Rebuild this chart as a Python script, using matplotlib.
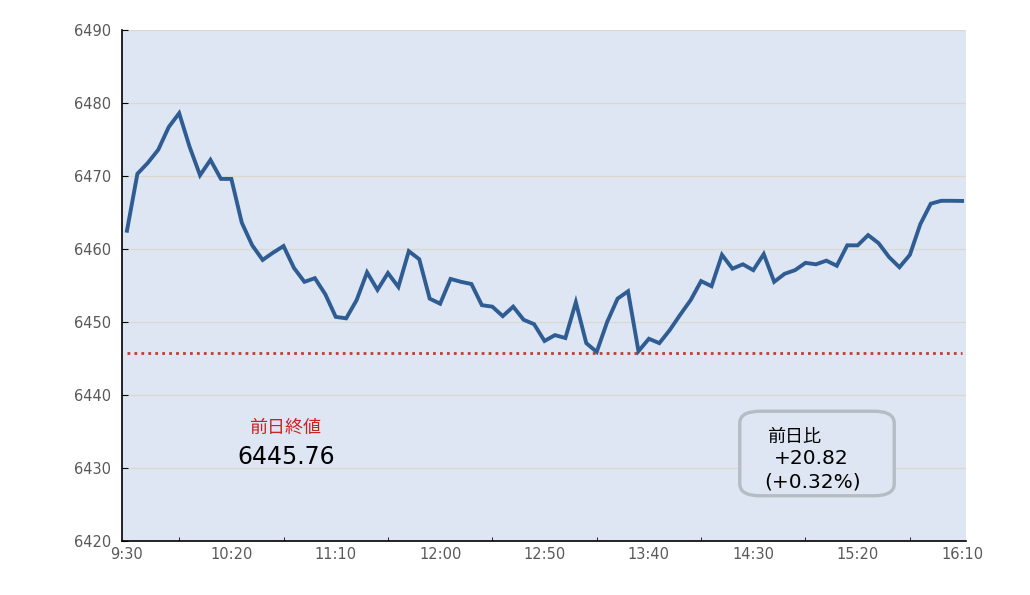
import matplotlib.pyplot as plt
from matplotlib.patches import FancyBboxPatch

plt.rcParams['font.family'] = ['DejaVu Sans', 'Noto Sans CJK JP']

# 5-minute values from 9:30 to 16:10
prices = [
    6462.5, 6470.3, 6471.8, 6473.6, 6476.7, 6478.6, 6474.0, 6470.1, 6472.2, 6469.6,
    6469.6, 6463.6, 6460.5, 6458.5, 6459.5, 6460.4, 6457.4, 6455.5, 6456.0, 6453.8,
    6450.7, 6450.5, 6453.0, 6456.8, 6454.4, 6456.7, 6454.8, 6459.7, 6458.6, 6453.2,
    6452.5, 6455.9, 6455.5, 6455.2, 6452.3, 6452.1, 6450.8, 6452.1, 6450.3, 6449.7,
    6447.4, 6448.2, 6447.8, 6452.7, 6447.1, 6445.9, 6450.0, 6453.2, 6454.2, 6446.0,
    6447.7, 6447.1, 6448.9, 6451.0, 6453.0, 6455.6, 6454.9, 6459.2, 6457.3, 6457.9,
    6457.1, 6459.3, 6455.5, 6456.6, 6457.1, 6458.1, 6457.9, 6458.4, 6457.7, 6460.5,
    6460.5, 6461.9, 6460.8, 6458.9, 6457.5, 6459.2, 6463.4, 6466.2, 6466.6, 6466.6,
    6466.58,
]
minutes = [5 * i for i in range(len(prices))]
prev_close = 6445.76
change = 20.82
change_pct = 0.32
time_labels = ["9:30", "10:20", "11:10", "12:00", "12:50", "13:40", "14:30", "15:20", "16:10"]
y_ticks = [6420, 6430, 6440, 6450, 6460, 6470, 6480, 6490]

bg = "#dde6f2"
fig = plt.figure(figsize=(10.3, 5.95), dpi=100)
ax = fig.add_axes([0.1184, 0.0908, 0.8195, 0.8588])
ax.set_facecolor(bg)

ax.plot(minutes, prices, color="#2f5d93", linewidth=2.8, solid_joinstyle="miter", zorder=3)
ax.plot([minutes[0], minutes[-1]], [prev_close, prev_close], color="#c53a32",
        linestyle=(0, (1, 1.5)), linewidth=2.0, zorder=2)

ax.set_xlim(-2.4, 401.9)
ax.set_ylim(6420, 6490)
ax.set_yticks(y_ticks)
ax.set_xticks(range(0, 401, 50))
ax.set_xticklabels(time_labels)
ax.set_xticks(range(25, 400, 50), minor=True)
ax.grid(axis="y", color="#dcd8d0", linewidth=0.9)
ax.set_axisbelow(True)

for s in ["top", "right"]:
    ax.spines[s].set_visible(False)
for s in ["left", "bottom"]:
    ax.spines[s].set_color("black")
    ax.spines[s].set_linewidth(1.2)

ax.tick_params(axis="y", direction="in", length=4, colors="black", labelcolor="#595959",
               labelsize=10.5, pad=8)
ax.tick_params(axis="x", which="major", length=0, labelcolor="#595959", labelsize=10.5, pad=4)
ax.tick_params(axis="x", which="minor", direction="in", length=3, color="black")

# previous close annotation
fig.text(285 / 1030, 1 - 428 / 595, "前日終値", color="#cc2222", fontsize=13,
         ha="center", va="center")
fig.text(286 / 1030, 1 - 457 / 595, f"{prev_close:.2f}", color="black", fontsize=17,
         ha="center", va="center")

# change box
box = FancyBboxPatch((748 / 1030, 1 - 491 / 595), 138 / 1030, 75 / 595,
                     boxstyle="round,pad=0.008,rounding_size=0.02",
                     transform=fig.transFigure, facecolor=bg, edgecolor="#b4bcc4",
                     linewidth=2.4, zorder=5)
fig.add_artist(box)
fig.text(767 / 1030, 1 - 437 / 595, "前日比", color="black", fontsize=13,
         ha="left", va="center", zorder=6)
fig.text(774 / 1030, 1 - 459 / 595, f"+{change:.2f}", color="black", fontsize=14.5,
         ha="left", va="center", zorder=6)
fig.text(764 / 1030, 1 - 482 / 595, f"(+{change_pct:.2f}%)", color="black", fontsize=14.5,
         ha="left", va="center", zorder=6)

fig.savefig("out.png", dpi=100)
